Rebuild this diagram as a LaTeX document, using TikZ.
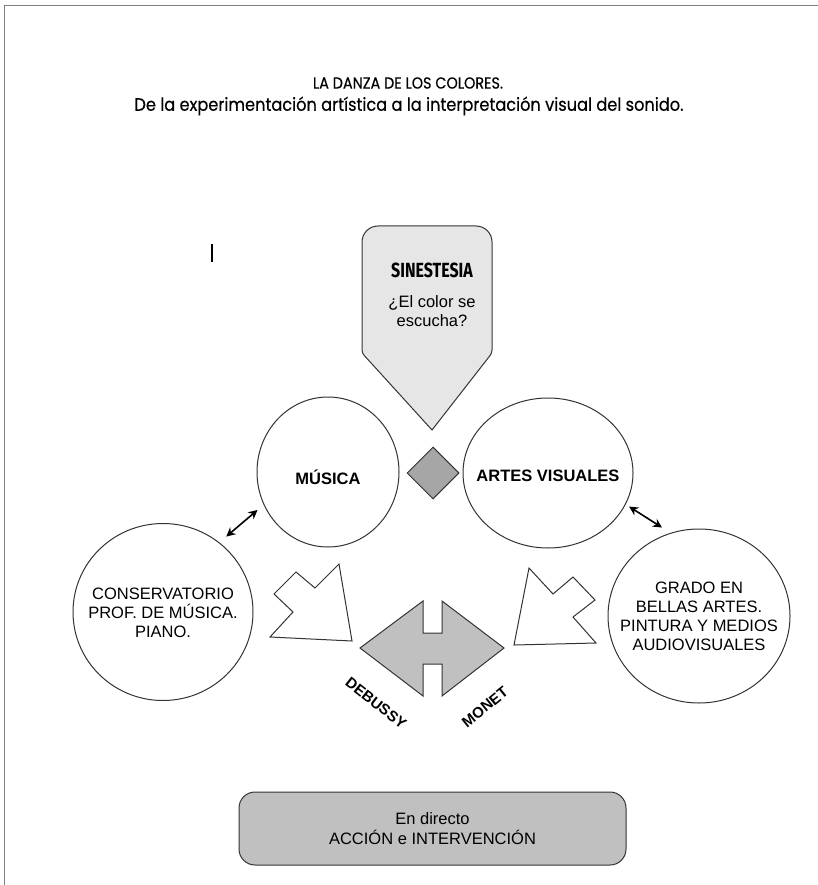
\documentclass[tikz,border=0pt]{standalone}
\usepackage{fontspec}
\setmainfont{Liberation Sans}
\newfontfamily\titlefont{Poppins}[FakeBold=0.4, FakeStretch=0.9]
\newfontfamily\condfont{Fira Sans}[FakeStretch=0.78]
\usetikzlibrary{shapes.geometric, arrows, arrows.meta}
\definecolor{lightfill}{HTML}{E6E6E6}
\definecolor{midfill}{HTML}{C0C0C0}
\definecolor{darkfill}{HTML}{A6A6A6}
\definecolor{edge}{HTML}{333333}
\tikzset{
    x=1pt, y=-1pt, % one unit is one pixel of the page, y runs downwards
    bubble/.style={ellipse, draw=edge, line width=1pt, inner sep=0pt}, % the round fields
    txt/.style={font=\fontsize{16.5}{19}\selectfont, align=center}, % plain labels
    boldtxt/.style={font=\fontsize{16.5}{19}\selectfont\bfseries}, % field titles
    slanted/.style={font=\fontsize{15}{18}\selectfont\bfseries}, % names under the H
    titletxt/.style={font=\titlefont\fontsize{16}{19}\selectfont}, % heading
    subtxt/.style={font=\titlefont\fontsize{18}{21}\selectfont}, % second heading line
    twoway/.style={{Stealth[length=9pt,width=9pt]}-{Stealth[length=9pt,width=9pt]}, line width=1.6pt}, % the short double arrows
    blockarrow/.style={draw=edge, fill=white, line width=1pt}, % hollow fat arrows
    >=stealth, % bold arrow heads
}
\begin{document}
\begin{tikzpicture}
    \useasboundingbox (0,0) rectangle (818,885);
    \draw[gray, line width=0.8pt] (4,885) -- (4,5) -- (818,5);

    \node[titletxt] (title) at (408,83) {LA DANZA DE LOS COLORES.};
    \node[subtxt] (sub) at (409,106) {De la experimentación artística a la interpretación visual del sonido.};

    \draw[line width=1.5pt] (212,244) -- (212,262);

    % callout
    \draw[draw=edge, fill=lightfill, line width=1pt]
        (432,430) [rounded corners=3pt] -- (362,353) [rounded corners=16pt] -- (362,226)
        -- (492,226) [rounded corners=3pt] -- (492,353) [sharp corners] -- cycle;
    \node[font=\condfont\fontsize{20.5}{24}\selectfont\bfseries] (sin) at (432,270) {SINESTESIA};
    \node[txt] (ask) at (432,311) {¿El color se\\escucha?};

    \node[bubble, minimum width=142pt, minimum height=150pt] (mus) at (328,472) {};
    \node[bubble, minimum width=170pt, minimum height=150pt] (art) at (548,473) {};
    \node[bubble, minimum width=180pt, minimum height=177pt] (cons) at (163,612) {};
    \node[bubble, minimum width=182pt, minimum height=174pt] (grado) at (699,616) {};
    \node[diamond, draw=edge, fill=darkfill, line width=1pt, minimum size=52pt, inner sep=0pt] (dia) at (433,473) {};

    \node[boldtxt] (musT) at (328,477) {MÚSICA};
    \node[boldtxt] (artT) at (548,476) {ARTES VISUALES};
    \node[txt] (consT) at (163,613) {CONSERVATORIO\\PROF. DE MÚSICA.\\PIANO.};
    \node[txt] (gradoT) at (699,616) {GRADO EN\\BELLAS ARTES.\\PINTURA Y MEDIOS\\AUDIOVISUALES};

    \draw[twoway, shorten <=9pt, shorten >=8pt] (cons.51) -- (mus.207);
    \draw[twoway, shorten <=4pt, shorten >=10pt] (art.-22) -- (grado.109);

    \draw[blockarrow] (339,564) -- (352,641) -- (270,637) -- (293,612) -- (274,594) -- (296,572) -- (315,588) -- cycle;
    \draw[blockarrow] (529,568) -- (553,594) -- (573,577) -- (595,600) -- (573,617) -- (596,643) -- (514,645) -- cycle;

    \draw[draw=edge, fill=midfill, line width=1pt]
        (360,648) -- (423,601) -- (423,633) -- (442,633) -- (442,601) -- (504,648)
        -- (442,696) -- (442,664) -- (423,664) -- (423,696) -- cycle;
    \node[slanted, rotate=-38, inner sep=1pt] (deb) at (376,703) {DEBUSSY};
    \node[slanted, rotate=39, inner sep=1pt] (mon) at (485,707) {MONET};

    \node[draw=edge, fill=midfill, line width=1pt, rounded corners=16pt, minimum width=387pt,
        minimum height=73pt, align=center, font=\fontsize{16.5}{20}\selectfont] (live) at (432.5,828.5)
        {En directo\\ACCIÓN e INTERVENCIÓN};
\end{tikzpicture}
\end{document}
